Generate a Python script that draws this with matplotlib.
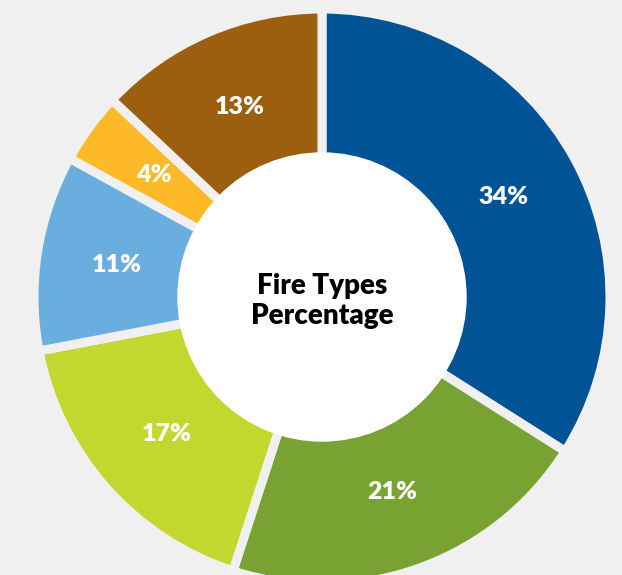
import matplotlib
matplotlib.use("Agg")
import matplotlib.pyplot as plt

categories = ["Type A", "Type B", "Type C", "Type D", "Type E", "Type F"]
percentages = [34, 21, 17, 11, 4, 13]
colors = ["#005496", "#78A232", "#C2D82F", "#6AADDF", "#FDB928", "#9C5F0F"]
center_title = "Fire Types\nPercentage"

BG = "#F0F0F0"

fig = plt.figure(figsize=(6.22, 5.75), dpi=100, facecolor=BG)
ax = fig.add_axes([0, 0, 1, 1])
ax.set_facecolor(BG)

cx, cy, r_out, r_in = 322, 278, 288, 144

wedges, texts, autotexts = ax.pie(
    percentages, colors=colors, startangle=90, counterclock=False,
    center=(cx, cy), radius=r_out, frame=True,
    autopct="%d%%", pctdistance=0.72,
    wedgeprops=dict(edgecolor=BG, linewidth=6.5),
    textprops=dict(color="white", fontsize=18, fontweight="heavy", family="Lato"),
)
ax.set_xlim(0, 622)
ax.set_ylim(0, 575)
ax.set_aspect("equal")
ax.axis("off")

ax.add_patch(plt.Circle((cx, cy), r_in, color="white", zorder=3))
ax.text(cx, cy - 4, center_title, ha="center", va="center", fontsize=20,
        fontweight="heavy", family="Lato", color="black", zorder=4,
        linespacing=1.2)

plt.savefig("out.png", dpi=100, facecolor=BG)
plt.close()
